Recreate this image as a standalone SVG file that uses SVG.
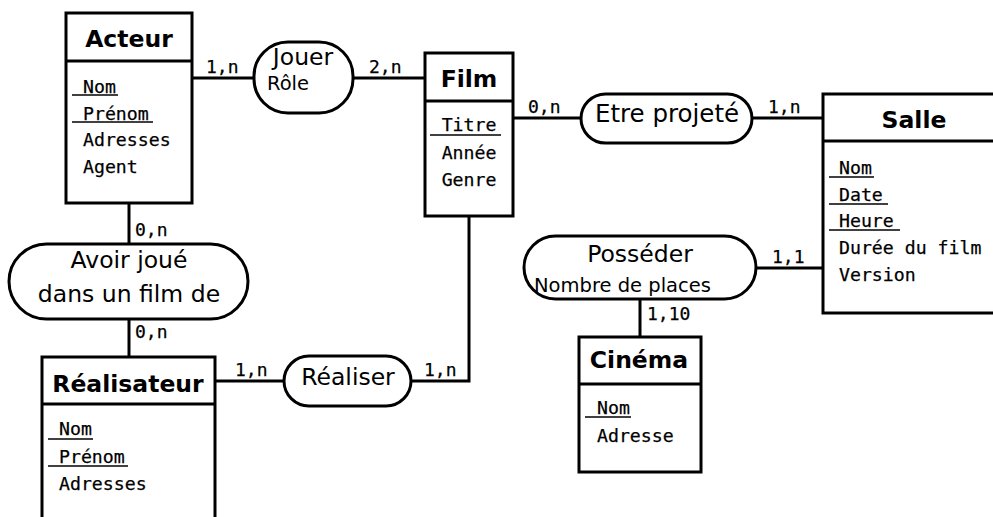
<svg xmlns="http://www.w3.org/2000/svg" width="993" height="517" viewBox="0 0 993 517">
<style>
.box{fill:#fff;stroke:#000;stroke-width:3}
.rel{fill:#fff;stroke:#000;stroke-width:3}
.ln{fill:none;stroke:#000;stroke-width:3}
.ul{stroke:#000;stroke-width:1.6}
.title{font-family:"DejaVu Sans",sans-serif;font-weight:bold;font-size:23.5px;text-anchor:middle}
.attr{font-family:"DejaVu Sans Mono",monospace;font-size:18.2px;stroke:#000;stroke-width:0.25}
.card{font-family:"DejaVu Sans Mono",monospace;font-size:18px;stroke:#000;stroke-width:0.25}
.rname{font-family:"DejaVu Sans",sans-serif;font-size:23.5px;text-anchor:middle}
.rattr{font-family:"DejaVu Sans",sans-serif;font-size:19.5px}
</style>
<rect width="993" height="517" fill="#fff"/>
<g id="connectors">
<line class="ln" x1="192" y1="78" x2="254" y2="78"/>
<line class="ln" x1="353" y1="78" x2="425" y2="78"/>
<line class="ln" x1="513" y1="118" x2="581" y2="118"/>
<line class="ln" x1="752" y1="118" x2="823" y2="118"/>
<line class="ln" x1="756" y1="268" x2="823" y2="268"/>
<line class="ln" x1="640" y1="298" x2="640" y2="337"/>
<line class="ln" x1="129" y1="203" x2="129" y2="244"/>
<line class="ln" x1="129" y1="319" x2="129" y2="357"/>
<line class="ln" x1="215" y1="381" x2="284" y2="381"/>
<polyline class="ln" points="411,381 469,381 469,216"/>
<text class="card" x="206" y="73">1,n</text>
<text class="card" x="369" y="73">2,n</text>
<text class="card" x="528" y="113">0,n</text>
<text class="card" x="768" y="113">1,n</text>
<text class="card" x="772" y="263">1,1</text>
<text class="card" x="647" y="320">1,10</text>
<text class="card" x="135" y="236">0,n</text>
<text class="card" x="135" y="338">0,n</text>
<text class="card" x="235" y="376">1,n</text>
<text class="card" x="424" y="376">1,n</text>
</g>
<g id="acteur">
<rect class="box" x="66" y="13" width="126" height="190"/>
<line class="ln" x1="66" y1="61" x2="192" y2="61"/>
<text class="title" x="129" y="47">Acteur</text>
<text class="attr" x="83" y="93">Nom</text>
<line class="ul" x1="72" y1="95" x2="118" y2="95"/>
<text class="attr" x="83" y="120">Prénom</text>
<line class="ul" x1="72" y1="122" x2="153" y2="122"/>
<text class="attr" x="83" y="146">Adresses</text>
<text class="attr" x="83" y="173">Agent</text>
</g>
<g id="jouer">
<rect class="rel" x="254" y="42" width="99" height="71" rx="34" ry="34"/>
<text class="rname" x="303" y="65">Jouer</text>
<text class="rattr" x="267" y="90">Rôle</text>
</g>
<g id="film">
<rect class="box" x="425" y="53" width="88" height="163"/>
<line class="ln" x1="425" y1="101" x2="513" y2="101"/>
<text class="title" x="469" y="87">Film</text>
<text class="attr" x="469" y="131" text-anchor="middle">Titre</text>
<line class="ul" x1="430" y1="135" x2="501" y2="135"/>
<text class="attr" x="469" y="159" text-anchor="middle">Année</text>
<text class="attr" x="469" y="186" text-anchor="middle">Genre</text>
</g>
<g id="etre-projete">
<rect class="rel" x="581" y="94" width="171" height="49" rx="24.5" ry="24.5"/>
<text class="rname" x="667" y="122" style="font-size:24.5px">Etre projeté</text>
</g>
<g id="salle">
<rect class="box" x="823" y="94" width="190" height="219"/>
<line class="ln" x1="823" y1="141" x2="1013" y2="141"/>
<text class="title" x="914" y="128">Salle</text>
<text class="attr" x="839" y="174">Nom</text>
<line class="ul" x1="829" y1="177" x2="874" y2="177"/>
<text class="attr" x="839" y="201">Date</text>
<line class="ul" x1="829" y1="204" x2="888" y2="204"/>
<text class="attr" x="839" y="227">Heure</text>
<line class="ul" x1="829" y1="230" x2="900" y2="230"/>
<text class="attr" x="839" y="254">Durée du film</text>
<text class="attr" x="839" y="281">Version</text>
</g>
<g id="posseder">
<rect class="rel" x="524" y="236" width="232" height="63" rx="31.5" ry="31.5"/>
<text class="rname" x="640" y="262">Posséder</text>
<text class="rattr" x="534" y="292">Nombre de places</text>
</g>
<g id="cinema">
<rect class="box" x="579" y="337" width="122" height="135"/>
<line class="ln" x1="579" y1="384" x2="701" y2="384"/>
<text class="title" x="639" y="368">Cinéma</text>
<text class="attr" x="597" y="414">Nom</text>
<line class="ul" x1="585" y1="417" x2="631" y2="417"/>
<text class="attr" x="597" y="442">Adresse</text>
</g>
<g id="avoir-joue">
<rect class="rel" x="9" y="244" width="239" height="75" rx="37.5" ry="37.5"/>
<text class="rname" x="129" y="268">Avoir joué</text>
<text class="rname" x="129" y="302">dans un film de</text>
</g>
<g id="realisateur">
<rect class="box" x="42" y="357" width="173" height="180"/>
<line class="ln" x1="42" y1="404" x2="215" y2="404"/>
<text class="title" x="128" y="392">Réalisateur</text>
<text class="attr" x="59" y="435">Nom</text>
<line class="ul" x1="48" y1="439" x2="93" y2="439"/>
<text class="attr" x="59" y="463">Prénom</text>
<line class="ul" x1="48" y1="466" x2="128" y2="466"/>
<text class="attr" x="59" y="490">Adresses</text>
</g>
<g id="realiser">
<rect class="rel" x="284" y="356" width="127" height="50" rx="25" ry="25"/>
<text class="rname" x="348" y="385">Réaliser</text>
</g>
</svg>
